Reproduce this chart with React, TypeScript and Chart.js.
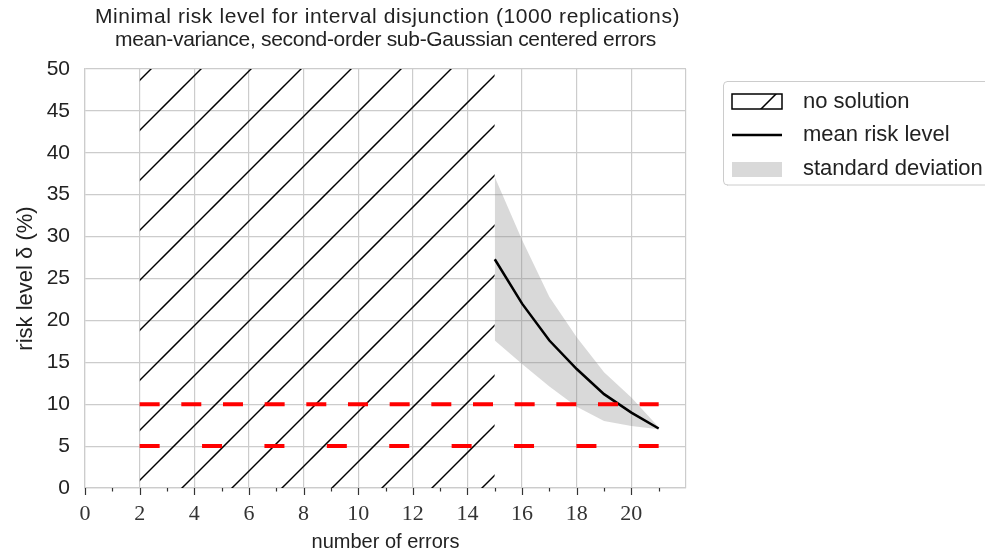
import React, { useEffect, useRef } from 'react';
import { Chart, registerables } from 'chart.js';

Chart.register(...registerables);

// ---- data ----
const titleLines = [
  'Minimal risk level for interval disjunction (1000 replications)',
  'mean-variance, second-order sub-Gaussian centered errors',
];
const xAxisTitle = 'number of errors';
const yAxisTitle = 'risk level δ (%)';

const errorCounts = [15, 16, 17, 18, 19, 20, 21];
const meanRisk = [27.3, 22.0, 17.6, 14.2, 11.2, 9.0, 7.1];
const stdUpper = [37.1, 29.6, 22.8, 18.0, 13.8, 10.8, 7.25];
const stdLower = [17.6, 14.8, 12.1, 9.7, 8.0, 7.4, 7.0];

const noSolutionX = [2, 15];
const noSolutionTop = 50;

const thresholdLevels = [10, 5];
const thresholdX = [2, 21];

const xMin = 0;
const xMax = 22;
const xLabelMax = 20;
const xTickMarkMax = 21;
const yMin = 0;
const yMax = 50;
const yStep = 5;

const legendLabels = ['no solution', 'mean risk level', 'standard deviation'];

// ---- styles ----
const SANS = '"Liberation Sans", "DejaVu Sans", sans-serif';
const SERIF = '"Liberation Serif", "DejaVu Serif", serif';
const GRID = '#cccccc';
const TEXT = '#222222';
const BAND = 'rgba(128,128,128,0.3)';

function makeHatch(): CanvasPattern | string {
  const tile = document.createElement('canvas');
  tile.width = 50;
  tile.height = 50;
  const t = tile.getContext('2d');
  if (!t) return 'transparent';
  t.strokeStyle = '#000';
  t.lineWidth = 1.5;
  for (const c of [20, 70, 120, -30]) {
    t.beginPath();
    t.moveTo(c + 20, -20);
    t.lineTo(c - 80, 80);
    t.stroke();
  }
  const main = document.createElement('canvas').getContext('2d');
  return (main && main.createPattern(tile, 'repeat')) || 'transparent';
}

export default function App() {
  const ref = useRef<HTMLCanvasElement | null>(null);

  useEffect(() => {
    const canvas = ref.current;
    if (!canvas) return;
    const hatch = makeHatch();

    const decor = {
      id: 'decor',
      afterDraw(chart: any) {
        const { ctx, chartArea } = chart;
        const xs = chart.scales.x;
        const cx = (chartArea.left + chartArea.right) / 2;
        const cy = (chartArea.top + chartArea.bottom) / 2;
        ctx.save();
        // tick marks
        ctx.strokeStyle = '#333';
        ctx.lineWidth = 1.2;
        for (const t of xs.ticks) {
          if (t.value > xTickMarkMax) continue;
          const px = Math.round(xs.getPixelForValue(t.value)) + 0.5;
          const len = t.value % 2 === 0 ? 7 : 3.5;
          ctx.beginPath();
          ctx.moveTo(px, chartArea.bottom);
          ctx.lineTo(px, chartArea.bottom + len);
          ctx.stroke();
        }
        // title
        ctx.fillStyle = TEXT;
        ctx.font = `21px ${SANS}`;
        ctx.textAlign = 'center';
        ctx.textBaseline = 'middle';
        (ctx as any).letterSpacing = '0.6px';
        ctx.fillText(titleLines[0], cx + 2, 17);
        (ctx as any).letterSpacing = '-0.3px';
        ctx.fillText(titleLines[1], cx, 40);
        (ctx as any).letterSpacing = '0px';
        // axis titles
        ctx.font = `20px ${SANS}`;
        ctx.fillText(xAxisTitle, cx, 542);
        ctx.save();
        ctx.font = `22px ${SANS}`;
        ctx.translate(26, cy);
        ctx.rotate(-Math.PI / 2);
        ctx.fillText(yAxisTitle, 0, 0);
        ctx.restore();

        // legend
        const lx = chartArea.right + 37;
        const ly = 81;
        ctx.fillStyle = 'rgba(255,255,255,0.8)';
        ctx.strokeStyle = '#cccccc';
        ctx.lineWidth = 1;
        ctx.beginPath();
        const r = 4;
        const w = 300;
        const h = 104;
        ctx.moveTo(lx + r, ly + 0.5);
        ctx.lineTo(lx + w, ly + 0.5);
        ctx.lineTo(lx + w, ly + h);
        ctx.lineTo(lx + r, ly + h);
        ctx.arcTo(lx + 0.5, ly + h, lx + 0.5, ly + h - r, r);
        ctx.lineTo(lx + 0.5, ly + r);
        ctx.arcTo(lx + 0.5, ly + 0.5, lx + r, ly + 0.5, r);
        ctx.closePath();
        ctx.fill();
        ctx.stroke();

        const hx = lx + 9;
        const hw = 50;
        // row 1: hatch patch
        ctx.fillStyle = hatch;
        ctx.fillRect(hx, 94, hw, 15);
        ctx.strokeStyle = '#000';
        ctx.lineWidth = 1.5;
        ctx.strokeRect(hx, 94, hw, 15);
        // row 2: line
        ctx.beginPath();
        ctx.lineWidth = 2.5;
        ctx.moveTo(hx, 135);
        ctx.lineTo(hx + hw, 135);
        ctx.stroke();
        // row 3: band
        ctx.fillStyle = BAND;
        ctx.fillRect(hx, 162, hw, 15);

        ctx.fillStyle = TEXT;
        ctx.font = `22px ${SANS}`;
        ctx.textAlign = 'left';
        ctx.textBaseline = 'middle';
        ctx.fillText(legendLabels[0], lx + 80, 101.5);
        ctx.fillText(legendLabels[1], lx + 80, 135);
        ctx.fillText(legendLabels[2], lx + 80, 169);
        ctx.restore();
      },
    };

    const chart = new Chart(canvas, {
      type: 'line',
      data: {
        datasets: [
          {
            label: 'threshold-10',
            data: thresholdX.map((x) => ({ x, y: thresholdLevels[0] })),
            borderColor: '#ff0000',
            borderWidth: 4,
            borderDash: [20, 21.67],
            borderCapStyle: 'butt',
            pointRadius: 0,
            fill: false,
            order: 0,
          },
          {
            label: 'threshold-5',
            data: thresholdX.map((x) => ({ x, y: thresholdLevels[1] })),
            borderColor: '#ff0000',
            borderWidth: 4,
            borderDash: [20, 42.4],
            borderCapStyle: 'butt',
            pointRadius: 0,
            fill: false,
            order: 0,
          },
          {
            label: legendLabels[1],
            data: errorCounts.map((x, i) => ({ x, y: meanRisk[i] })),
            borderColor: '#000',
            borderWidth: 2.5,
            pointRadius: 0,
            tension: 0,
            fill: false,
            order: 1,
          },
          {
            label: 'upper',
            data: errorCounts.map((x, i) => ({ x, y: stdUpper[i] })),
            borderWidth: 0,
            borderColor: 'transparent',
            pointRadius: 0,
            fill: false,
            order: 2,
          },
          {
            label: legendLabels[2],
            data: errorCounts.map((x, i) => ({ x, y: stdLower[i] })),
            borderWidth: 0,
            borderColor: 'transparent',
            backgroundColor: BAND,
            pointRadius: 0,
            fill: '-1',
            order: 3,
          },
          {
            label: legendLabels[0],
            data: noSolutionX.map((x) => ({ x, y: noSolutionTop })),
            borderWidth: 0,
            borderColor: 'transparent',
            backgroundColor: hatch as any,
            pointRadius: 0,
            fill: 'origin',
            order: 4,
          },
        ],
      },
      options: {
        animation: false,
        responsive: false,
        devicePixelRatio: 1,
        layout: { padding: { left: 0, top: 69, right: 299, bottom: 0 } },
        plugins: {
          legend: { display: false },
          title: { display: false },
          tooltip: { enabled: false },
        },
        scales: {
          x: {
            type: 'linear',
            min: xMin,
            max: xMax,
            afterFit: (s: any) => {
              s.height = 66;
            },
            ticks: {
              stepSize: 1,
              autoSkip: false,
              maxRotation: 0,
              padding: 13,
              color: '#333',
              font: { family: SERIF, size: 22 },
              callback: (v: any) => (v % 2 === 0 && v <= xLabelMax ? String(v) : ''),
            },
            grid: {
              drawTicks: false,
              color: (c: any) => (c.tick && c.tick.value % 2 === 0 ? GRID : 'transparent'),
              lineWidth: 1.2,
            },
            border: { color: GRID, width: 1.2 },
          },
          y: {
            type: 'linear',
            min: yMin,
            max: yMax,
            afterFit: (s: any) => {
              s.width = 85;
            },
            ticks: {
              stepSize: yStep,
              padding: 15,
              color: TEXT,
              font: { family: SANS, size: 21 },
            },
            grid: { drawTicks: false, color: GRID, lineWidth: 1.2 },
            border: { color: GRID, width: 1.2 },
          },
        },
      },
      plugins: [decor],
    } as any);

    return () => chart.destroy();
  }, []);

  return (
    <div style={{ position: 'fixed', left: 0, top: 0, width: 985, height: 554, background: '#fff' }}>
      <canvas ref={ref} width={985} height={554} style={{ display: 'block' }} />
    </div>
  );
}
